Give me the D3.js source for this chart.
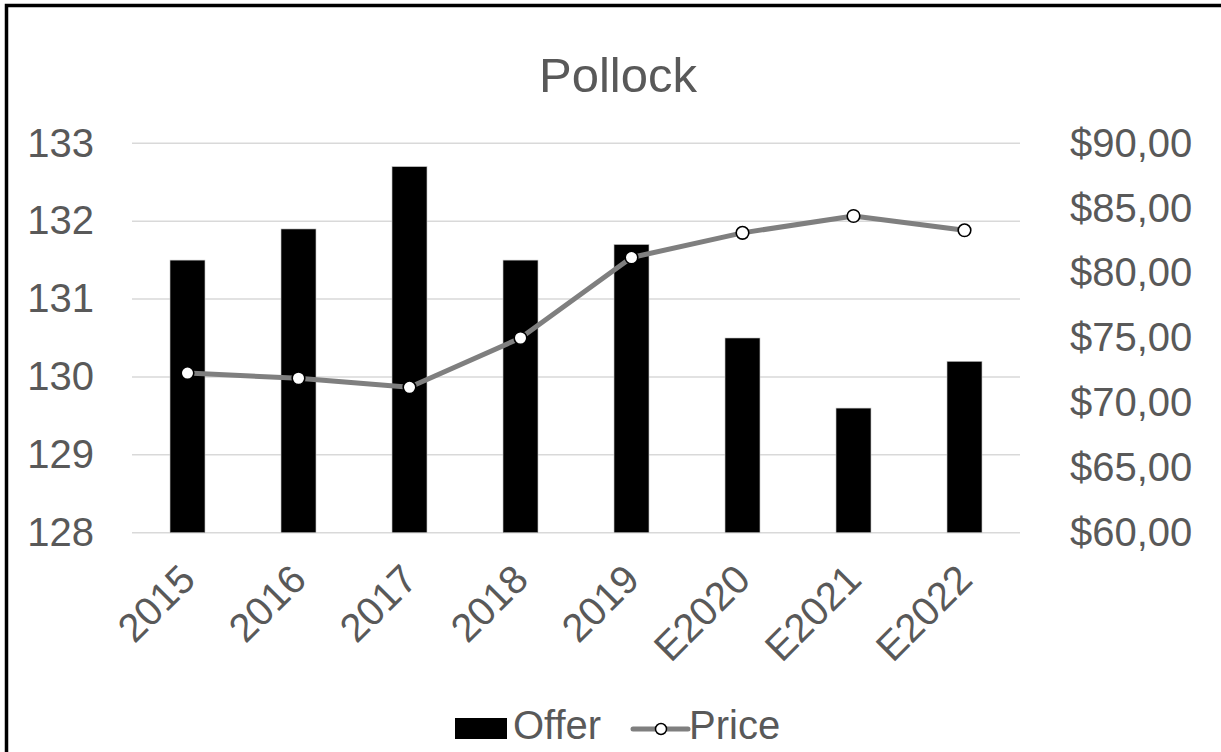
<!DOCTYPE html>
<html>
<head>
<meta charset="utf-8">
<script src="https://cdn.jsdelivr.net/npm/d3@7/dist/d3.min.js"></script>
<style>
  html, body { margin: 0; padding: 0; background: #fff; }
  svg { display: block; }
  text { font-family: "Liberation Sans", Arial, sans-serif; fill: #595959; }
</style>
</head>
<body>
<svg id="chart" width="1221" height="752"></svg>
<script>
// Pollock: offer volume (bars, left axis) and price (line, right axis)
const categories = ["2015", "2016", "2017", "2018", "2019", "E2020", "E2021", "E2022"];
const offer = [131.5, 131.9, 132.7, 131.5, 131.7, 130.5, 129.6, 130.2];
const price = [72.3, 71.9, 71.2, 75.0, 81.2, 83.1, 84.4, 83.3];
const leftTicks = [128, 129, 130, 131, 132, 133];
const rightTicks = [60, 65, 70, 75, 80, 85, 90];

const svg = d3.select("#chart");
const W = 1221, H = 752;
const plot = { left: 132, right: 1020, top: 143.3, bottom: 532.7 };

svg.append("rect").attr("width", W).attr("height", H).attr("fill", "#fff");
// frame
svg.append("rect")
  .attr("x", 6.5).attr("y", 5.5)
  .attr("width", 1400).attr("height", 900)
  .attr("fill", "none").attr("stroke", "#000").attr("stroke-width", 3.5);

const x = d3.scaleBand()
  .domain(categories)
  .range([plot.left, plot.right])
  .paddingInner(0.685)
  .paddingOuter(0.3425);

const yL = d3.scaleLinear().domain([128, 133]).range([plot.bottom, plot.top]);
const yR = d3.scaleLinear().domain([60, 90]).range([plot.bottom, plot.top]);

// title
svg.append("text")
  .attr("x", 618).attr("y", 91.5)
  .attr("text-anchor", "middle")
  .style("font-size", "49px")
  .text("Pollock");

// gridlines
svg.append("g")
  .selectAll("line")
  .data(leftTicks)
  .join("line")
  .attr("x1", plot.left).attr("x2", plot.right)
  .attr("y1", d => yL(d)).attr("y2", d => yL(d))
  .attr("stroke", "#d9d9d9").attr("stroke-width", 1.6);

// left axis
const axL = svg.append("g")
  .attr("transform", `translate(${plot.left},0)`)
  .call(d3.axisLeft(yL).tickValues(leftTicks).tickSize(0).tickPadding(38).tickFormat(d3.format("d")));
axL.select(".domain").remove();
axL.selectAll("text")
  .style("font-family", "'Liberation Sans', Arial, sans-serif")
  .style("font-size", "40px").attr("fill", "#595959");

// right axis
const fmtPrice = d => "$" + d3.format(".2f")(d).replace(".", ",");
const axR = svg.append("g")
  .attr("transform", `translate(${plot.right},0)`)
  .call(d3.axisRight(yR).tickValues(rightTicks).tickSize(0).tickPadding(50).tickFormat(fmtPrice));
axR.select(".domain").remove();
axR.selectAll("text")
  .style("font-family", "'Liberation Sans', Arial, sans-serif")
  .style("font-size", "40px").attr("fill", "#595959");

// category labels, rotated
const axB = svg.append("g")
  .attr("transform", `translate(0,${plot.bottom})`)
  .call(d3.axisBottom(x).tickSize(0));
axB.select(".domain").remove();
axB.selectAll("text")
  .style("font-family", "'Liberation Sans', Arial, sans-serif")
  .style("font-size", "40px").attr("fill", "#595959")
  .attr("text-anchor", "end")
  .attr("dy", null)
  .attr("y", 0)
  .attr("transform", `translate(10,49) rotate(-45)`);

// bars
svg.append("g")
  .selectAll("rect")
  .data(categories)
  .join("rect")
  .attr("x", d => x(d))
  .attr("width", x.bandwidth())
  .attr("y", (d, i) => yL(offer[i]))
  .attr("height", (d, i) => plot.bottom - yL(offer[i]))
  .attr("fill", "#000")
  .attr("stroke", "#bfbfbf").attr("stroke-width", 0.6);

// price line
const cx = d => x(d) + x.bandwidth() / 2;
const line = d3.line().x(d => cx(d)).y((d, i) => yR(price[i]));
svg.append("path")
  .datum(categories)
  .attr("d", line)
  .attr("fill", "none")
  .attr("stroke", "#7f7f7f").attr("stroke-width", 5)
  .attr("stroke-linejoin", "round");

svg.append("g")
  .selectAll("circle")
  .data(categories)
  .join("circle")
  .attr("cx", d => cx(d))
  .attr("cy", (d, i) => yR(price[i]))
  .attr("r", 6.3)
  .attr("fill", "#fff")
  .attr("stroke", "#000").attr("stroke-width", 1.6);

// legend
const lg = svg.append("g");
lg.append("rect").attr("x", 455).attr("y", 718).attr("width", 52).attr("height", 21).attr("fill", "#000");
lg.append("text").attr("x", 513).attr("y", 739).style("font-size", "40px").text("Offer");
lg.append("line").attr("x1", 633).attr("x2", 688).attr("y1", 729).attr("y2", 729)
  .attr("stroke", "#7f7f7f").attr("stroke-width", 5).attr("stroke-linecap", "round");
lg.append("circle").attr("cx", 661).attr("cy", 729).attr("r", 5.5)
  .attr("fill", "#fff").attr("stroke", "#000").attr("stroke-width", 1.5);
lg.append("text").attr("x", 689).attr("y", 739).style("font-size", "40px").text("Price");
</script>
</body>
</html>
